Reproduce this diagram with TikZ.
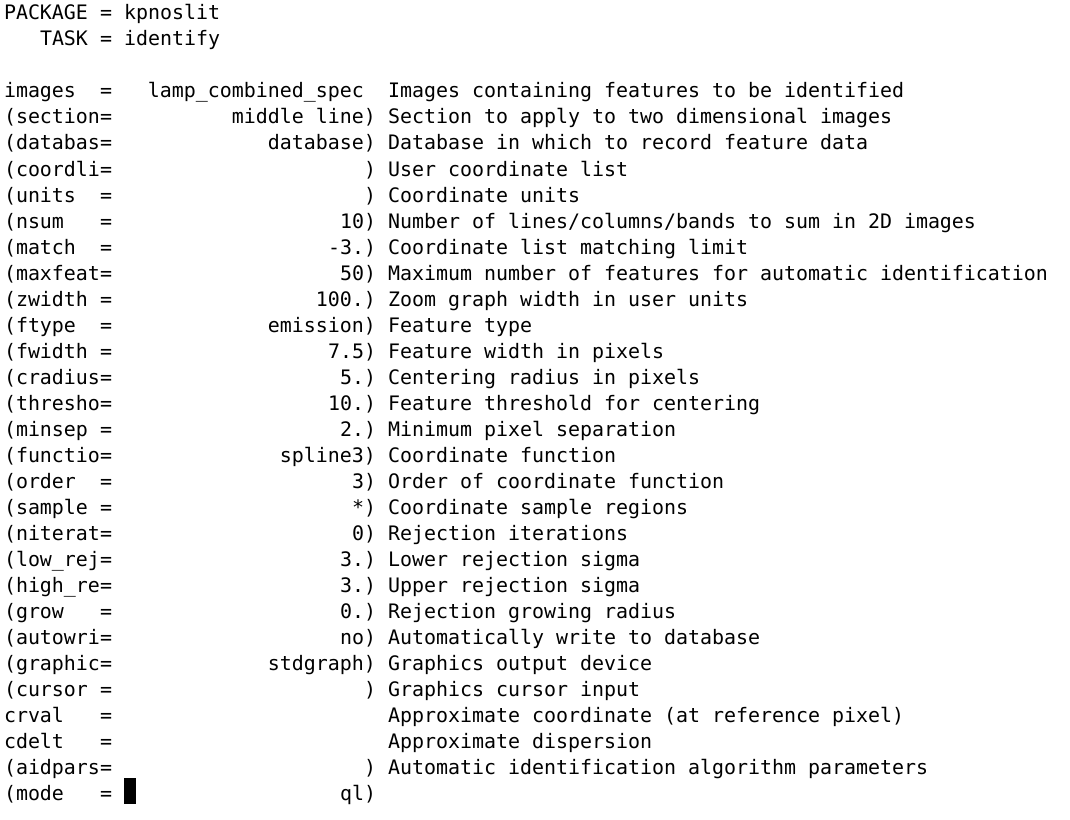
\documentclass[tikz,border=0pt]{standalone}
\usepackage{fontspec}
\newfontfamily\termfont{DejaVu Sans Mono}
\newcommand\termsize{\termfont\fontsize{14.95}{18}\selectfont}
% row, name field, value (incl. paren), prompt
\newcommand\prow[4]{%
  \node[txt,anchor=base west] (n#1) at (4,{20+26*#1}) {#2};
  \node[txt,anchor=base west] (e#1) at (100,{20+26*#1}) {=};
  \node[txt,anchor=base east] (v#1) at (376,{20+26*#1}) {#3};
  \node[txt,anchor=base west] (p#1) at (388,{20+26*#1}) {#4};
}
\begin{document}
\begin{tikzpicture}[x=0.75pt,y=-0.75pt,
  txt/.style={inner sep=0pt,outer sep=0pt,font=\termsize,text=black}]
\fill[white] (0,0) rectangle (1070,820);
\useasboundingbox (0,0) rectangle (1070,820);
\node[txt,anchor=base west] (pk) at (4,20) {PACKAGE};
\node[txt,anchor=base west] (pke) at (100,20) {=};
\node[txt,anchor=base west] (pkv) at (124,20) {kpnoslit};
\node[txt,anchor=base west] (tk) at (40,46) {TASK};
\node[txt,anchor=base west] (tke) at (100,46) {=};
\node[txt,anchor=base west] (tkv) at (124,46) {identify};
\node[txt,anchor=base west] (n3) at (4,98) {images};
\node[txt,anchor=base west] (e3) at (100,98) {=};
\node[txt,anchor=base east] (v3) at (364,98) {lamp\_combined\_spec};
\node[txt,anchor=base west] (p3) at (388,98) {Images containing features to be identified};
\prow{4}{(section}{middle line)}{Section to apply to two dimensional images}
\prow{5}{(databas}{database)}{Database in which to record feature data}
\prow{6}{(coordli}{)}{User coordinate list}
\prow{7}{(units}{)}{Coordinate units}
\prow{8}{(nsum}{10)}{Number of lines/columns/bands to sum in 2D images}
\prow{9}{(match}{-3.)}{Coordinate list matching limit}
\prow{10}{(maxfeat}{50)}{Maximum number of features for automatic identification}
\prow{11}{(zwidth}{100.)}{Zoom graph width in user units}
\prow{12}{(ftype}{emission)}{Feature type}
\prow{13}{(fwidth}{7.5)}{Feature width in pixels}
\prow{14}{(cradius}{5.)}{Centering radius in pixels}
\prow{15}{(thresho}{10.)}{Feature threshold for centering}
\prow{16}{(minsep}{2.)}{Minimum pixel separation}
\prow{17}{(functio}{spline3)}{Coordinate function}
\prow{18}{(order}{3)}{Order of coordinate function}
\prow{19}{(sample}{*)}{Coordinate sample regions}
\prow{20}{(niterat}{0)}{Rejection iterations}
\prow{21}{(low\_rej}{3.)}{Lower rejection sigma}
\prow{22}{(high\_re}{3.)}{Upper rejection sigma}
\prow{23}{(grow}{0.)}{Rejection growing radius}
\prow{24}{(autowri}{no)}{Automatically write to database}
\prow{25}{(graphic}{stdgraph)}{Graphics output device}
\prow{26}{(cursor}{)}{Graphics cursor input}
\node[txt,anchor=base west] (n27) at (4,722) {crval};
\node[txt,anchor=base west] (e27) at (100,722) {=};
\node[txt,anchor=base west] (p27) at (388,722) {Approximate coordinate (at reference pixel)};
\node[txt,anchor=base west] (n28) at (4,748) {cdelt};
\node[txt,anchor=base west] (e28) at (100,748) {=};
\node[txt,anchor=base west] (p28) at (388,748) {Approximate dispersion};
\prow{29}{(aidpars}{)}{Automatic identification algorithm parameters}
\node[txt,anchor=base west] (n30) at (4,800) {(mode};
\node[txt,anchor=base west] (e30) at (100,800) {=};
\node[txt,anchor=base east] (v30) at (376,800) {ql)};
\fill[black] (124,778) rectangle (136,804);
\end{tikzpicture}
\end{document}
